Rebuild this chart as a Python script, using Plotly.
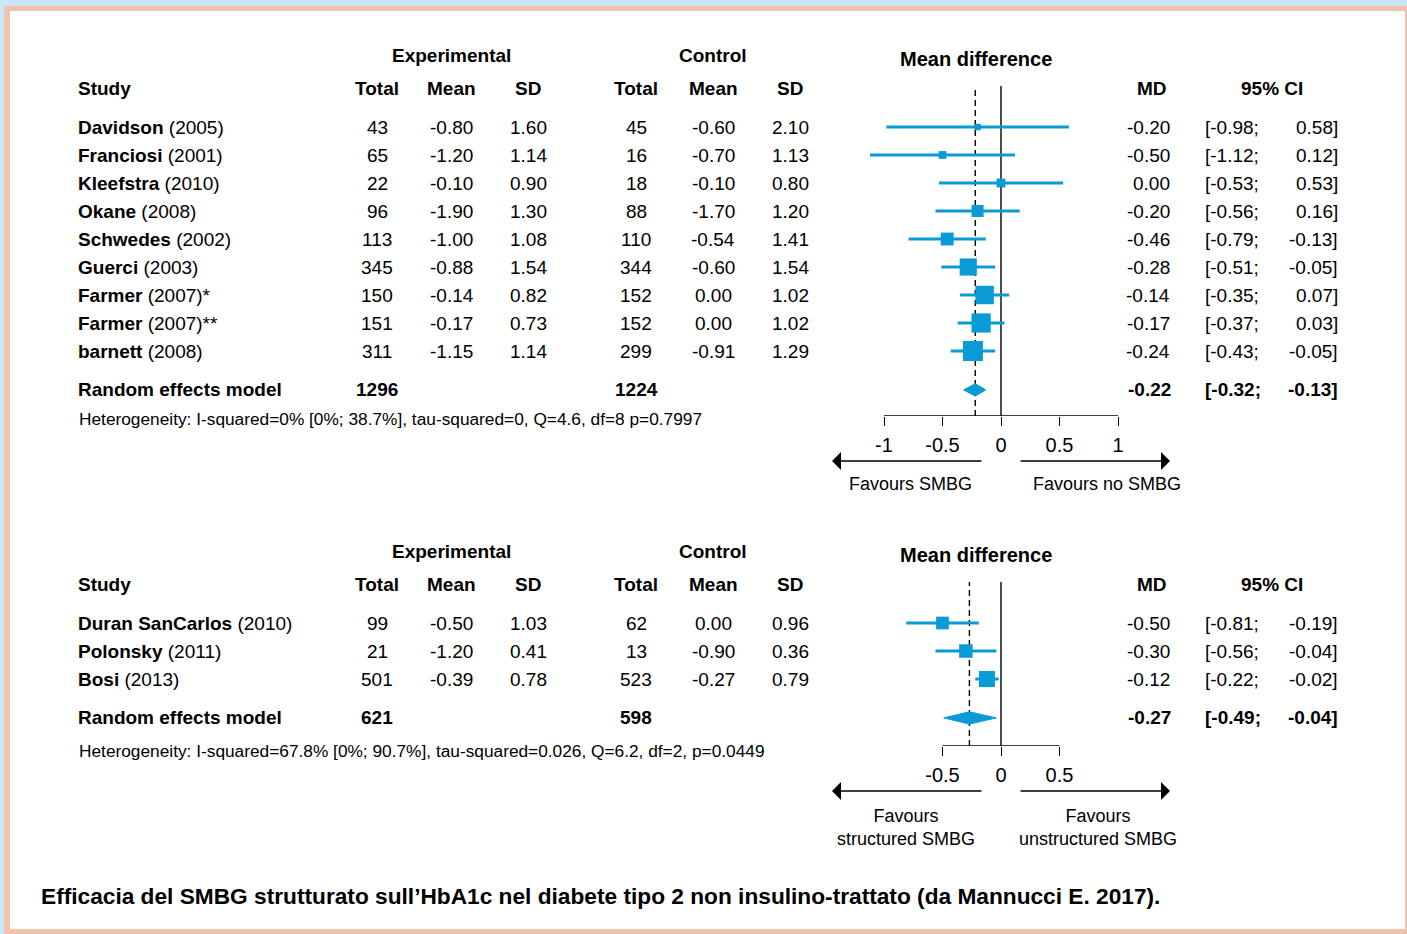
import plotly.graph_objects as go
import numpy as np

W, H = 1407, 934
FONT = "Liberation Sans, Arial, sans-serif"
BLUE = "#0a9ad6"

# ---------------- data: panel 1 ----------------
top_names = ["Davidson", "Franciosi", "Kleefstra", "Okane", "Schwedes", "Guerci", "Farmer", "Farmer", "barnett"]
top_years = ["(2005)", "(2001)", "(2010)", "(2008)", "(2002)", "(2003)", "(2007)*", "(2007)**", "(2008)"]
top_exp_total = [43, 65, 22, 96, 113, 345, 150, 151, 311]
top_exp_mean = [-0.80, -1.20, -0.10, -1.90, -1.00, -0.88, -0.14, -0.17, -1.15]
top_exp_sd = [1.60, 1.14, 0.90, 1.30, 1.08, 1.54, 0.82, 0.73, 1.14]
top_ctl_total = [45, 16, 18, 88, 110, 344, 152, 152, 299]
top_ctl_mean = [-0.60, -0.70, -0.10, -1.70, -0.54, -0.60, 0.00, 0.00, -0.91]
top_ctl_sd = [2.10, 1.13, 0.80, 1.20, 1.41, 1.54, 1.02, 1.02, 1.29]
top_md = [-0.20, -0.50, 0.00, -0.20, -0.46, -0.28, -0.14, -0.17, -0.24]
top_lo = [-0.98, -1.12, -0.53, -0.56, -0.79, -0.51, -0.35, -0.37, -0.43]
top_hi = [0.58, 0.12, 0.53, 0.16, -0.13, -0.05, 0.07, 0.03, -0.05]
top_re = [-0.22, -0.32, -0.13]
top_re_totals = [1296, 1224]
top_tau2 = 0.0
top_het = "Heterogeneity: I-squared=0% [0%; 38.7%], tau-squared=0, Q=4.6, df=8 p=0.7997"
top_ticks = [-1, -0.5, 0, 0.5, 1]
top_ticktext = ["-1", "-0.5", "0", "0.5", "1"]
top_fav = ["Favours SMBG", "Favours no SMBG"]

# ---------------- data: panel 2 ----------------
bot_names = ["Duran SanCarlos", "Polonsky", "Bosi"]
bot_years = ["(2010)", "(2011)", "(2013)"]
bot_exp_total = [99, 21, 501]
bot_exp_mean = [-0.50, -1.20, -0.39]
bot_exp_sd = [1.03, 0.41, 0.78]
bot_ctl_total = [62, 13, 523]
bot_ctl_mean = [0.00, -0.90, -0.27]
bot_ctl_sd = [0.96, 0.36, 0.79]
bot_md = [-0.50, -0.30, -0.12]
bot_lo = [-0.81, -0.56, -0.22]
bot_hi = [-0.19, -0.04, -0.02]
bot_re = [-0.27, -0.49, -0.04]
bot_re_totals = [621, 598]
bot_tau2 = 0.026
bot_het = "Heterogeneity: I-squared=67.8% [0%; 90.7%], tau-squared=0.026, Q=6.2, df=2, p=0.0449"
bot_ticks = [-0.5, 0, 0.5]
bot_ticktext = ["-0.5", "0", "0.5"]
bot_fav = ["Favours<br>structured SMBG", "Favours<br>unstructured SMBG"]

caption = "Efficacia del SMBG strutturato sull\u2019HbA1c nel diabete tipo 2 non insulino-trattato (da Mannucci E. 2017)."

# ---------------- layout helpers ----------------
def PX(x):
    return x / W

def PY(y):
    return 1 - y / H

ROW_H = 28.0
X0_PX, UNIT_PX = 1001.0, 117.0
XDOM = (826, 1176)
xrange_ = [(XDOM[0] - X0_PX) / UNIT_PX, (XDOM[1] - X0_PX) / UNIT_PX]

panels = [
    dict(names=top_names, years=top_years, et=top_exp_total, em=top_exp_mean, es=top_exp_sd,
         ct=top_ctl_total, cm=top_ctl_mean, cs=top_ctl_sd, md=top_md, lo=top_lo, hi=top_hi,
         re=top_re, ret=top_re_totals, tau2=top_tau2, het=top_het, ticks=top_ticks,
         ticktext=top_ticktext, fav=top_fav, row0=127, dom=(40, 416), smax=20,
         het_y=419, arrow_y=461, fav_y=484, xa="x", ya="y"),
    dict(names=bot_names, years=bot_years, et=bot_exp_total, em=bot_exp_mean, es=bot_exp_sd,
         ct=bot_ctl_total, cm=bot_ctl_mean, cs=bot_ctl_sd, md=bot_md, lo=bot_lo, hi=bot_hi,
         re=bot_re, ret=bot_re_totals, tau2=bot_tau2, het=bot_het, ticks=bot_ticks,
         ticktext=bot_ticktext, fav=bot_fav, row0=623, dom=(535, 746), smax=16,
         het_y=751, arrow_y=791, fav_y=827, xa="x2", ya="y2"),
]

fig = go.Figure()
shapes = []
ann = []

# background frame
shapes.append(dict(type="rect", xref="paper", yref="paper", x0=PX(4), x1=1, y0=0, y1=PY(6),
                   fillcolor="#f0c2ad", line=dict(width=0), layer="below"))
shapes.append(dict(type="rect", xref="paper", yref="paper", x0=PX(10), x1=PX(1405), y0=PY(929), y1=PY(11),
                   fillcolor="white", line=dict(width=0), layer="below"))

TXT = 19
def A(x, y, text, ya, anchor="center", size=TXT, bold=False, xref="paper"):
    if bold:
        text = "<b>" + text + "</b>"
    ann.append(dict(x=x, y=y, xref=xref, yref=ya, text=text, showarrow=False,
                    xanchor=anchor, yanchor="middle",
                    font=dict(family=FONT, size=size, color="black")))

for k, p in enumerate(panels):
    n = len(p["md"])
    rows = list(range(n))
    re_row = n - 1 + 1.39
    hdr1, hdr2, hdr_md = -1.36, -2.55, -2.43
    ya = p["ya"]
    xa = p["xa"]

    # CI lines
    xs, ys = [], []
    for i in rows:
        xs += [p["lo"][i], p["hi"][i], None]
        ys += [i, i, None]
    fig.add_trace(go.Scatter(x=xs, y=ys, mode="lines", line=dict(color=BLUE, width=3),
                             xaxis=xa, yaxis=ya, showlegend=False, hoverinfo="skip"))
    # weights -> box sizes
    se = (np.array(p["hi"]) - np.array(p["lo"])) / 3.92
    w = 1.0 / (se ** 2 + p["tau2"])
    sizes = p["smax"] * (w / w.max()) ** 0.4
    fig.add_trace(go.Scatter(x=p["md"], y=rows, mode="markers",
                             marker=dict(symbol="square", size=sizes, color=BLUE, opacity=1,
                                         line=dict(width=0, color=BLUE)),
                             xaxis=xa, yaxis=ya, showlegend=False, cliponaxis=False))
    # diamond
    est, lo, hi = p["re"]
    hh = 0.22
    fig.add_trace(go.Scatter(x=[lo, est, hi, est, lo], y=[re_row, re_row - hh, re_row, re_row + hh, re_row],
                             mode="lines", fill="toself", fillcolor=BLUE, line=dict(color=BLUE, width=1),
                             xaxis=xa, yaxis=ya, showlegend=False))

    ybot = (p["dom"][1] - p["row0"]) / ROW_H
    ytop = (p["dom"][0] - p["row0"]) / ROW_H
    vline_top = (86 - 127) / ROW_H
    shapes.append(dict(type="line", xref=xa, yref=ya, x0=0, x1=0, y0=ybot, y1=vline_top,
                       line=dict(color="black", width=1.4), layer="below"))
    shapes.append(dict(type="line", xref=xa, yref=ya, x0=est, x1=est, y0=ybot, y1=vline_top,
                       line=dict(color="black", width=1.4, dash="6px,4px"), layer="below"))
    shapes.append(dict(type="line", xref=xa, yref=ya, x0=min(p["ticks"]), x1=max(p["ticks"]),
                       y0=ybot, y1=ybot, line=dict(color="black", width=1.4), layer="below"))

    axis_kw = dict(range=xrange_, domain=[PX(XDOM[0]), PX(XDOM[1])], showgrid=False, zeroline=False,
                   showline=False, ticks="outside", ticklen=9, tickwidth=1.4, tickcolor="black",
                   tickvals=p["ticks"], ticktext=p["ticktext"], ticklabelstandoff=2,
                   tickfont=dict(family=FONT, size=20, color="black"), fixedrange=True)
    yaxis_kw = dict(range=[ybot, ytop], domain=[PY(p["dom"][1]), PY(p["dom"][0])], visible=False,
                    fixedrange=True)
    if k == 0:
        fig.update_layout(xaxis=dict(anchor="y", **axis_kw), yaxis=dict(anchor="x", **yaxis_kw))
    else:
        fig.update_layout(xaxis2=dict(anchor="y2", **axis_kw), yaxis2=dict(anchor="x2", **yaxis_kw))

    # headers
    A(PX(452), hdr2, "Experimental", ya, bold=True)
    A(PX(713), hdr2, "Control", ya, bold=True)
    A(PX(976), hdr_md, "Mean difference", ya, bold=True, size=20)
    A(PX(76), hdr1, "Study", ya, anchor="left", bold=True)
    for xc, t in [(377, "Total"), (452, "Mean"), (528, "SD"), (636, "Total"), (713, "Mean"), (790, "SD"),
                  (1152, "MD"), (1272, "95% CI")]:
        A(PX(xc), hdr1, t, ya, bold=True)

    # study rows
    for i in rows:
        A(PX(76), i, "<b>%s</b> %s" % (p["names"][i], p["years"][i]), ya, anchor="left")
        A(PX(377), i, str(p["et"][i]), ya)
        A(PX(452), i, "%.2f" % p["em"][i], ya)
        A(PX(528), i, "%.2f" % p["es"][i], ya)
        A(PX(636), i, str(p["ct"][i]), ya)
        A(PX(713), i, "%.2f" % p["cm"][i], ya)
        A(PX(790), i, "%.2f" % p["cs"][i], ya)
        A(PX(1172), i, "%.2f" % p["md"][i], ya, anchor="right")
        A(PX(1203), i, "[%.2f;" % p["lo"][i], ya, anchor="left")
        A(PX(1340), i, "%.2f]" % p["hi"][i], ya, anchor="right")

    # RE row
    A(PX(76), re_row, "Random effects model", ya, anchor="left", bold=True)
    A(PX(377), re_row, str(p["ret"][0]), ya, bold=True)
    A(PX(636), re_row, str(p["ret"][1]), ya, bold=True)
    A(PX(1173), re_row, "%.2f" % est, ya, anchor="right", bold=True)
    A(PX(1203), re_row, "[%.2f;" % lo, ya, anchor="left", bold=True)
    A(PX(1340), re_row, "%.2f]" % hi, ya, anchor="right", bold=True)

    # heterogeneity
    A(PX(77), PY(p["het_y"]), p["het"], "paper", anchor="left", size=17.3)

    # arrows
    for head, dx in [(832, 151), (1170, -151)]:
        ann.append(dict(x=PX(head), y=PY(p["arrow_y"]), xref="paper", yref="paper", text="",
                        showarrow=True, axref="pixel", ayref="pixel", ax=dx, ay=0,
                        arrowhead=1, arrowsize=2.0, arrowwidth=1.5, arrowcolor="black", standoff=0))
    A(PX(910 if k == 0 else 906), PY(p["fav_y"]), p["fav"][0], "paper", size=18)
    A(PX(1107 if k == 0 else 1098), PY(p["fav_y"]), p["fav"][1], "paper", size=18)

# caption
A(PX(39), PY(896), caption, "paper", anchor="left", size=22.7, bold=True)

fig.update_layout(width=W, height=H, autosize=False, margin=dict(l=0, r=0, t=0, b=0),
                  paper_bgcolor="#c9e7f8", plot_bgcolor="rgba(0,0,0,0)",
                  shapes=shapes, annotations=ann, showlegend=False,
                  font=dict(family=FONT, size=TXT, color="black"))

fig.write_html("out.html", config={"displayModeBar": False},
               post_script="document.body.style.margin='0';document.body.style.padding='0';")
